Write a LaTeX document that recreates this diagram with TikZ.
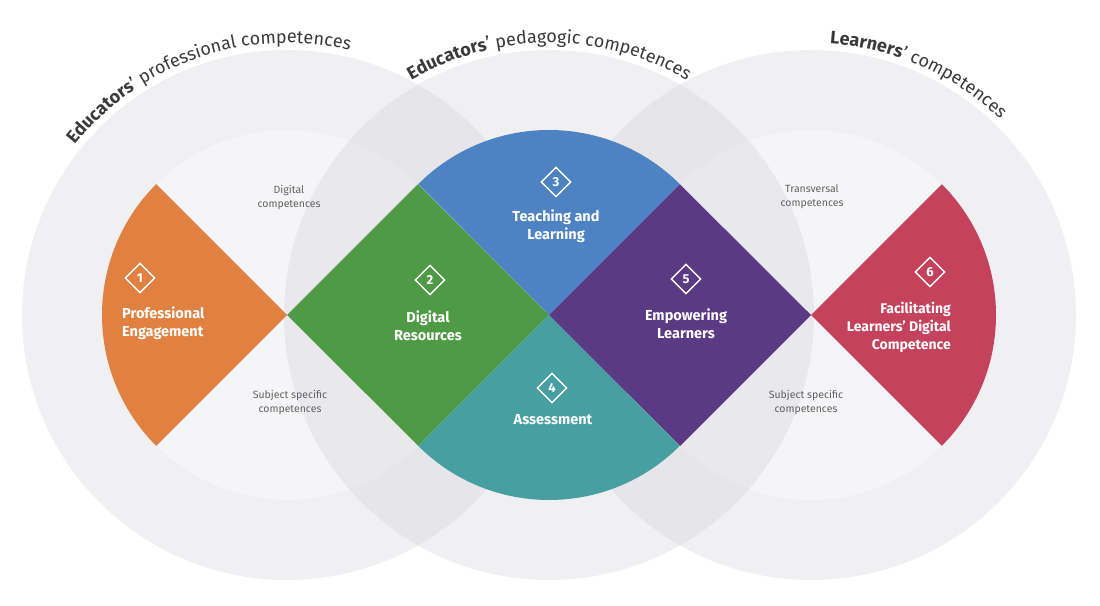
\documentclass[tikz,border=0pt]{standalone}
\usepackage{fontspec}
\setmainfont{Fira Sans}
\usetikzlibrary{shapes.geometric}
\usetikzlibrary{decorations.text}
\definecolor{pe}{HTML}{E08142}
\definecolor{dr}{HTML}{4F9A45}
\definecolor{tl}{HTML}{4D82C3}
\definecolor{as}{HTML}{489FA2}
\definecolor{el}{HTML}{5A3A82}
\definecolor{fl}{HTML}{C4425B}
\definecolor{ring}{RGB}{200,200,210}
\definecolor{arctext}{HTML}{3A3A3A}
\newcommand\rIn{185}
\newcommand\rOut{265}
\newcommand\half{130.8}
\newcommand\arcfont{\fontsize{18}{20}\selectfont}
\tikzstyle{badge}=[diamond,aspect=1,draw=white,line width=1.4pt,minimum width=30pt,minimum height=30pt,inner sep=0pt,text=white,font=\bfseries\fontsize{13}{13}\selectfont]
\tikzstyle{area label}=[text=white,font=\bfseries\fontsize{14.5}{18}\selectfont,align=center,inner sep=0pt]
\tikzstyle{sub label}=[text=black!62,font=\fontsize{10.5}{14}\selectfont,align=center,inner sep=0pt]
\newcommand{\circleset}[1]
{ % #1 = centre
  \fill[ring,fill opacity=0.27,even odd rule] (#1) circle (\rOut) (#1) circle (\rIn);
  \fill[ring,fill opacity=0.18] (#1) circle (\rIn);
}
\newcommand{\arctitle}[5]
{ % #1 = centre, #2 = from, #3 = to, #4 = bold word, #5 = rest
  \path[decorate,decoration={text along path,text align=center,text color=arctext,
    text={|\arcfont\bfseries|#4|\arcfont\mdseries|#5}}]
    (#1) ++(#2:272) arc (#2:#3:272);
}

\begin{document}
\begin{tikzpicture}[x=1pt,y=1pt]
  \useasboundingbox (0,0) rectangle (1100,605);
  \coordinate (T1) at (287,290);
  \coordinate (T2) at (549,290);
  \coordinate (T3) at (811,290);
  \circleset{T1}
  \circleset{T2}
  \circleset{T3}
  % the six areas
  \fill[pe] (T1) -- ++(135:\rIn) arc (135:225:\rIn) -- cycle;
  \fill[dr] (T1) -- ++(\half,\half) -- (T2) -- ++(-\half,-\half) -- cycle;
  \fill[tl] (T2) -- ++(45:\rIn) arc (45:135:\rIn) -- cycle;
  \fill[as] (T2) -- ++(225:\rIn) arc (225:315:\rIn) -- cycle;
  \fill[el] (T2) -- ++(\half,\half) -- (T3) -- ++(-\half,-\half) -- cycle;
  \fill[fl] (T3) -- ++(-45:\rIn) arc (-45:45:\rIn) -- cycle;
  \node[badge] (b1) at (140,327) {1};
  \node[badge] (b2) at (430,325) {2};
  \node[badge] (b3) at (556,423) {3};
  \node[badge] (b4) at (552,217) {4};
  \node[badge] (b5) at (686,326) {5};
  \node[badge] (b6) at (930,333) {6};
  \node[area label,align=left,anchor=west] (pe) at (122,282) {Professional\\Engagement};
  \node[area label] (dr) at (428,279) {Digital\\Resources};
  \node[area label] (tl) at (556,379) {Teaching and\\Learning};
  \node[area label] (as) at (553,185) {Assessment};
  \node[area label] (el) at (686,281) {Empowering\\Learners};
  \node[area label,font=\bfseries\fontsize{14}{18}\selectfont,align=right,anchor=east] (fl) at (951,278) {Facilitating\\Learners’ Digital\\Competence};
  \node[sub label] (dc) at (289,407) {Digital\\competences};
  \node[sub label] (ss1) at (290,202) {Subject specific\\competences};
  \node[sub label] (tc) at (812,408) {Transversal\\competences};
  \node[sub label] (ss2) at (806,202) {Subject specific\\competences};
  % titles along the circles
  \arctitle{T1}{154}{64}{Educators}{’ professional competences}
  \arctitle{T2}{135}{45}{Educators}{’ pedagogic competences}
  \arctitle{T3}{111}{21}{Learners}{’ competences}
\end{tikzpicture}
\end{document}
